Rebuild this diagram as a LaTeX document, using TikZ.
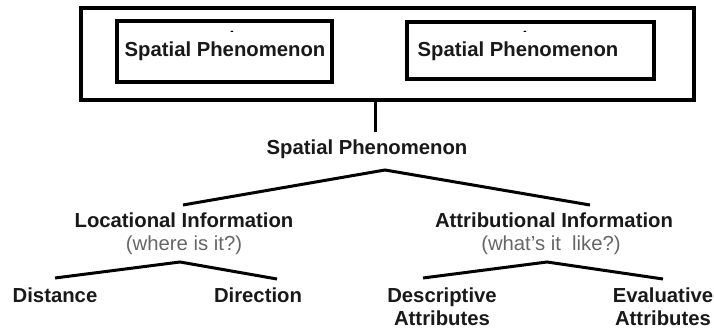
\documentclass[tikz,border=0pt]{standalone}
\usepackage{fontspec}
\setmainfont{Liberation Sans}

\begin{document}
\begin{tikzpicture}[x=1pt, y=-1pt, line width=3pt,
	box/.style={draw, rectangle, line width=3.5pt, inner sep=0pt},
	head/.style={font=\fontsize{20.3}{23}\selectfont\bfseries, text=black!90, align=center, anchor=base, inner sep=0pt},
	note/.style={font=\fontsize{20.3}{23}\selectfont, text=black!60, anchor=base, inner sep=0pt},
	speck/.style={font=\fontsize{10}{10}\selectfont\bfseries, inner sep=0pt}]
	\useasboundingbox (0,0) rectangle (714,328);

	\node [box, line width=4pt, minimum width=613pt, minimum height=92pt] (frame) at (387.5,54) {};
	\node [box, minimum width=215pt, minimum height=61pt] (boxA) at (224.5,51.5) {};
	\node [box, minimum width=247pt, minimum height=57pt] (boxB) at (530.5,50.5) {};

	\node [head] (phenA) at (225,57) {Spatial Phenomenon};
	\node [head] (phenB) at (518,57) {Spatial Phenomenon};
	\node [speck] (tickA) at (232,33) {-};
	\node [speck] (tickB) at (525,33) {-};

	\node [head] (phen) at (367,155) {Spatial Phenomenon};
	\node [head] (loc) at (184,228) {Locational Information};
	\node [note] (locq) at (184,251) {(where is it?)};
	\node [head] (attr) at (554,228) {Attributional Information};
	\node [note] (attrq) at (551,251) {(what's it\ \ like?)};

	\node [head] (dist) at (55,302) {Distance};
	\node [head] (dir) at (258,302) {Direction};
	\node [head] (descr) at (442,325) {Descriptive\\Attributes};
	\node [head] (eval) at (663,325) {Evaluative\\Attributes};

	\coordinate (stem) at (375,132);
	\coordinate (top) at (385,170);
	\coordinate (topL) at (183,205);
	\coordinate (topR) at (590,205);
	\coordinate (locT) at (180,262);
	\coordinate (locL) at (55,278);
	\coordinate (locR) at (277,279);
	\coordinate (attrT) at (547,262);
	\coordinate (attrL) at (423,278);
	\coordinate (attrR) at (663,279);

	\draw (stem |- frame.south) to (stem);
	\draw (topL) to (top) to (topR);
	\draw (locL) to (locT) to (locR);
	\draw (attrL) to (attrT) to (attrR);
\end{tikzpicture}
\end{document}
